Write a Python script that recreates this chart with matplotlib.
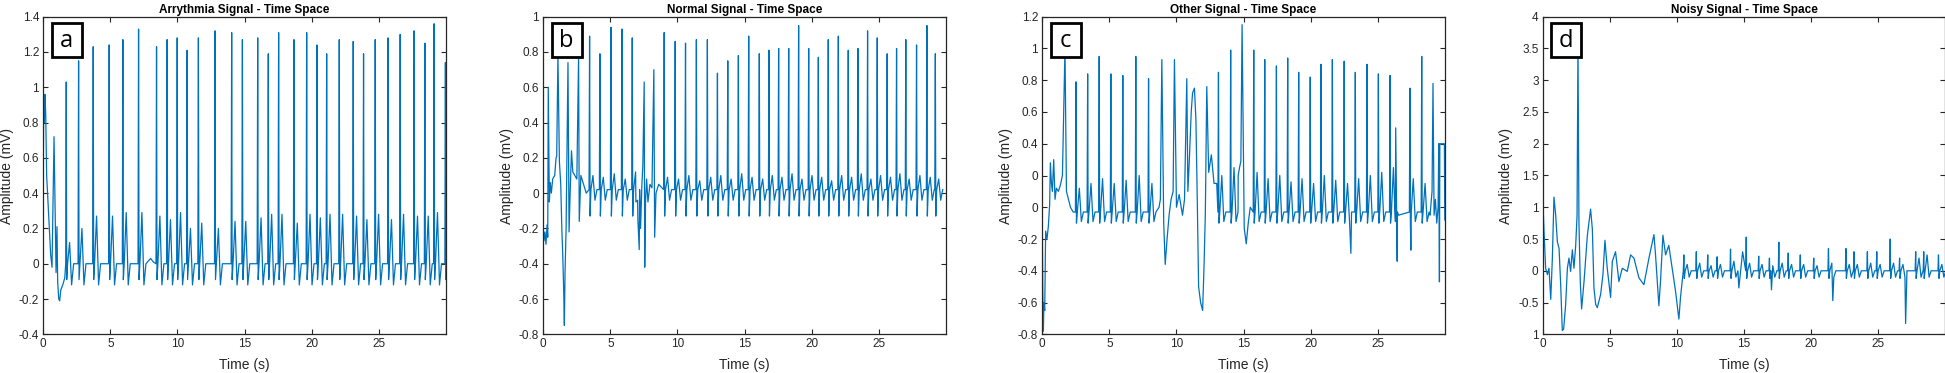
import numpy as np
import matplotlib
matplotlib.use('Agg')
import matplotlib.pyplot as plt
from matplotlib.patches import Rectangle

# ---- data (time in s, amplitude in mV) ----
titles = ['Arrythmia Signal - Time Space', 'Normal Signal - Time Space',
          'Other Signal - Time Space', 'Noisy Signal - Time Space']
letters = ['a', 'b', 'c', 'd']

# panel a : R peaks
beat_t_a = [0.80, 1.71, 2.63, 3.72, 4.91, 5.93, 7.10, 8.44, 9.23, 9.98, 10.72, 11.56, 12.80, 14.04,
            14.84, 15.98, 16.77, 17.54, 18.68, 19.63, 20.40, 21.12, 22.06, 23.10, 23.87, 24.74,
            25.70, 26.60, 27.64, 28.44, 29.13, 29.97]
beat_r_a = [0.72, 1.03, 1.15, 1.23, 1.24, 1.27, 1.33, 1.23, 1.27, 1.28, 1.21, 1.28, 1.32, 1.31,
            1.27, 1.28, 1.19, 1.31, 1.27, 1.31, 1.24, 1.19, 1.27, 1.26, 1.19, 1.27,
            1.28, 1.30, 1.32, 1.25, 1.36, 1.14]
beat_tw_a = [0.21, 0.12, 0.20, 0.27, 0.27, 0.29, 0.29, 0.27, 0.25, 0.29, 0.20, 0.23, 0.20, 0.24,
             0.24, 0.26, 0.28, 0.28, 0.23, 0.28, 0.26, 0.28, 0.28, 0.27, 0.25, 0.28,
             0.25, 0.28, 0.27, 0.27, 0.29, 0.10]
levels_a = (0.0, -0.09, -0.12)  # foot, S trough, low between beats
bare_a = [0]
extra_t_a = [0.0, 0.03, 0.08, 0.12, 0.18, 0.25, 0.35, 0.45, 0.55, 0.65, 0.95, 1.02, 1.07, 1.15,
             1.22, 1.30, 1.45, 1.60, 8.0, 8.2]
extra_v_a = [0.55, 0.93, 0.80, 0.96, 0.85, 0.50, 0.35, 0.20, 0.05, -0.02, -0.05, 0.21, -0.10, -0.20,
             -0.21, -0.15, -0.12, -0.08, 0.03, 0.01]

# panel b
beat_t_b = [0.37, 1.09, 1.84, 2.63, 3.45, 4.22, 5.04, 5.86, 6.63, 7.52, 8.24, 9.01, 9.83, 10.60,
            11.41, 12.23, 12.98, 13.75, 14.54, 15.31, 16.10, 16.82, 17.54, 18.29, 19.03, 19.78,
            20.50, 21.24, 21.99, 22.73, 23.45, 24.17, 24.89, 25.63, 26.33, 27.02, 27.82, 28.59, 29.22]
beat_r_b = [0.60, 0.78, 0.74, 0.78, 0.89, 0.79, 0.94, 0.93, 0.88, 0.63, 0.70, 0.91, 0.86, 0.85,
            0.87, 0.87, 0.68, 0.75, 0.78, 0.89, 0.79, 0.81, 0.82, 0.82, 0.95, 0.82,
            0.77, 0.87, 0.89, 0.81, 0.82, 0.92, 0.88, 0.79, 0.82, 0.87, 0.84, 0.95, 0.79]
beat_tw_b = [0.05, 0.05, 0.05, 0.05, 0.10, 0.09, 0.11, 0.08, 0.12, 0.05, 0.06, 0.09, 0.08, 0.10,
             0.07, 0.09, 0.10, 0.08, 0.11, 0.09, 0.08, 0.10, 0.09, 0.11, 0.08, 0.10,
             0.09, 0.07, 0.10, 0.09, 0.11, 0.08, 0.10, 0.09, 0.11, 0.08, 0.10, 0.09, 0.08]
levels_b = (0.02, -0.13, -0.04)
bare_b = [0, 1, 2, 3, 9, 10]
extra_t_b = [0.0, 0.05, 0.12, 0.20, 0.28, 0.33, 0.45, 0.52, 0.60, 0.70, 0.85, 0.95, 1.00, 1.20, 1.30,
             1.38, 1.45, 1.52, 1.57, 1.62, 1.70, 1.92, 2.00, 2.10, 2.20, 2.35, 2.50, 2.68, 2.80,
             3.00, 3.20, 6.90, 7.05, 7.15, 7.25, 7.35, 7.42, 7.56, 7.62, 7.70, 7.80, 7.95, 8.10,
             8.30, 8.40, 8.60]
extra_v_b = [-0.20, -0.27, -0.22, -0.29, -0.18, -0.25, -0.05, 0.06, 0.00, 0.08, 0.10, 0.20, 0.21, 0.18, 0.05,
             -0.20, -0.35, -0.55, -0.75, -0.45, -0.20, -0.22, 0.00, 0.24, 0.12, 0.10, 0.08, -0.16, 0.10,
             0.05, 0.00, -0.05, -0.15, -0.32, -0.20, 0.05, 0.16, -0.42, -0.05, 0.08, -0.05, 0.05, 0.03,
             -0.25, 0.00, 0.05]

# panel c
beat_t_c = [1.69, 2.51, 3.38, 4.24, 5.11, 6.00, 6.97, 7.92, 8.91, 9.85, 10.77, 11.34, 12.26, 13.13,
            14.04, 14.89, 15.76, 16.58, 17.45, 18.29, 19.11, 19.97, 20.77, 21.62, 22.50, 23.33,
            24.20, 25.05, 25.92, 26.34, 27.40, 28.28, 29.12]
beat_r_c = [1.00, 0.79, 0.84, 0.95, 0.84, 0.83, 0.95, 0.81, 0.93, 0.93, 0.81, 0.75, 0.76, 0.85,
            0.99, 1.15, 0.99, 0.93, 0.89, 0.94, 0.85, 0.82, 0.90, 0.93, 0.92, 0.85,
            0.90, 0.84, 0.83, 0.50, 0.75, 0.95, 0.78]
beat_tw_c = [0.10, 0.12, 0.15, 0.18, 0.15, 0.17, 0.20, 0.15, 0.10, 0.10, 0.10, 0.10, 0.10, 0.20,
             0.25, 0.10, 0.22, 0.18, 0.20, 0.16, 0.18, 0.15, 0.20, 0.17, 0.15, 0.18,
             0.20, 0.22, 0.25, 0.10, 0.18, 0.15, 0.10]
levels_c = (-0.03, -0.10, -0.09)
bare_c = [0, 8, 9, 10, 11, 12, 15, 29, 32]
extra_t_c = [0.0, 0.03, 0.08, 0.12, 0.18, 0.25, 0.35, 0.45, 0.55, 0.60, 0.68, 0.75, 0.85, 0.95,
             1.05, 1.20, 1.35, 1.50, 1.80, 1.95, 2.10, 2.30,
             8.70, 8.80, 9.05, 9.16, 9.30, 9.45, 9.60, 9.75, 10.00, 10.20, 10.45, 10.60,
             10.85, 10.95, 11.10, 11.20, 11.45, 11.55, 11.65, 11.80, 11.95, 12.05, 12.15,
             12.40, 12.60, 12.80, 13.00,
             14.60, 14.70, 14.80, 15.05, 15.20, 15.35, 15.50,
             23.00, 26.28, 26.45, 26.55, 27.47,
             28.90, 29.05, 29.20, 29.30, 29.40, 29.50, 29.55, 29.60, 29.63, 29.97, 30.00]
extra_v_c = [-0.10, -0.50, -0.78, -0.60, -0.65, -0.15, -0.20, -0.12, 0.02, 0.28, 0.15, 0.10, 0.30, 0.05,
             0.12, 0.10, 0.14, 0.20, 0.10, 0.05, 0.00, -0.03,
             0.00, 0.05, -0.10, -0.36, -0.20, -0.05, 0.05, 0.10, 0.00, 0.08, -0.05, 0.05,
             0.10, 0.28, 0.60, 0.72, 0.55, 0.05, -0.50, -0.60, -0.65, -0.38, -0.05,
             0.22, 0.33, 0.15, 0.15,
             0.20, 0.25, 0.29, -0.13, -0.23, -0.10, 0.00,
             -0.29, -0.02, -0.34, -0.05, -0.27,
             -0.05, 0.10, -0.05, 0.05, -0.10, 0.00, 0.40, -0.47, 0.40, 0.40, -0.08]

# panel d
beat_t_d = [10.52, 11.45, 12.30, 13.00, 14.00, 14.90, 15.17, 16.10, 16.90, 17.60, 18.30, 19.20,
            20.20, 21.30, 22.60, 23.20, 24.20, 24.90, 25.90, 26.60, 27.80, 28.40, 29.50]
beat_r_d = [0.25, 0.30, 0.25, 0.22, 0.34, 0.30, 0.53, 0.23, 0.20, 0.45, 0.28, 0.25,
            0.20, 0.35, 0.35, 0.30, 0.30, 0.30, 0.50, 0.20, 0.30, 0.30, 0.25]
beat_tw_d = [0.10, 0.12, 0.08, 0.10, 0.15, 0.10, 0.12, 0.10, 0.08, 0.12, 0.10, 0.10,
             0.08, 0.12, 0.10, 0.10, 0.12, 0.10, 0.12, 0.10, 0.20, 0.25, 0.10]
levels_d = (0.0, -0.12, -0.10)
bare_d = [5]
extra_t_d = [0.00, 0.10, 0.22, 0.35, 0.47, 0.60, 0.72, 0.84, 0.97, 1.09, 1.22, 1.34, 1.46, 1.56,
             1.71, 1.84, 1.96, 2.08, 2.21, 2.33, 2.46, 2.56, 2.63, 2.70, 2.80, 2.90, 3.08, 3.33,
             3.57, 3.70, 3.82, 3.95, 4.07, 4.32, 4.49, 4.64, 4.81, 5.06, 5.19, 5.43, 5.68, 5.93,
             6.30, 6.55, 6.80, 7.17, 7.54, 7.92, 8.29, 8.41, 8.66, 8.78, 8.96, 9.16, 9.40, 9.65,
             9.90, 10.15, 10.27, 14.62, 17.05, 21.62, 27.05]
extra_v_d = [1.18, 0.61, 0.04, -0.06, 0.04, -0.45, 0.20, 1.16, 0.87, 0.46, 0.35, -0.22, -0.94, -0.92,
             -0.53, 0.04, 0.20, -0.01, 0.33, 0.04, 0.40, 0.87, 3.60, 0.77, -0.17, -0.60, -0.17, 0.56,
             0.97, 0.66, -0.27, -0.53, -0.58, -0.37, -0.06, 0.48, 0.04, -0.42, 0.15, 0.30, -0.17, 0.04,
             -0.01, 0.25, 0.20, -0.11, -0.22, 0.20, 0.57, 0.25, -0.55, -0.17, 0.56, 0.25, 0.40, 0.04,
             -0.32, -0.76, -0.42, -0.27, -0.30, -0.47, -0.83]

ylims = [(-0.4, 1.4), (-0.8, 1.0), (-0.8, 1.2), (-1.0, 4.0)]
yticks = [np.arange(-0.4, 1.41, 0.2), np.arange(-0.8, 1.01, 0.2),
          np.arange(-0.8, 1.21, 0.2), np.arange(-1.0, 4.01, 0.5)]
yticklabels = [['-0.4', '-0.2', '0', '0.2', '0.4', '0.6', '0.8', '1', '1.2', '1.4'],
               ['-0.8', '-0.6', '-0.4', '-0.2', '0', '0.2', '0.4', '0.6', '0.8', '1'],
               ['-0.8', '-0.6', '-0.4', '-0.2', '0', '0', '0.4', '0.6', '0.8', '1', '1.2'],
               ['1', '-0.5', '0', '0.5', '1', '1.5', '2', '2.5', '3', '3.5', '4']]


def build_trace(bt, br, btw, levels, bare, et, ev):
    """Join the beat vertices and the extra vertices into one time-sorted line"""
    foot, s, low = levels
    pts = list(zip(et, ev))
    for i, (t, r, tw) in enumerate(zip(bt, br, btw)):
        if i in bare:
            pts.append((t, r))
            continue
        pts += [(t - 0.04, foot), (t, r), (t + 0.035, s), (t + 0.1, foot),
                (t + 0.25, tw), (t + 0.4, low), (t + 0.55, foot)]
    pts.sort(key=lambda p: p[0])
    pts = np.array(pts)
    return pts[:, 0], pts[:, 1]


traces = [build_trace(beat_t_a, beat_r_a, beat_tw_a, levels_a, bare_a, extra_t_a, extra_v_a),
          build_trace(beat_t_b, beat_r_b, beat_tw_b, levels_b, bare_b, extra_t_b, extra_v_b),
          build_trace(beat_t_c, beat_r_c, beat_tw_c, levels_c, bare_c, extra_t_c, extra_v_c),
          build_trace(beat_t_d, beat_r_d, beat_tw_d, levels_d, bare_d, extra_t_d, extra_v_d)]

plt.rcParams['font.family'] = ['Liberation Sans', 'DejaVu Sans']
W, H = 1945, 373
fig = plt.figure(figsize=(W / 100, H / 100), dpi=100)
lefts = [43.3, 543.3, 1042.3, 1542.7]
width = 402.5
top, bottom = 16.7, 334.3

for k in range(4):
    ax = fig.add_axes([lefts[k] / W, (H - bottom) / H, width / W, (bottom - top) / H])
    x, y = traces[k]
    ax.plot(x, y, color='#0072BD', lw=0.9)
    ax.set_xlim(0, 30)
    ax.set_ylim(*ylims[k])
    ax.set_xticks([0, 5, 10, 15, 20, 25])
    ax.set_yticks(yticks[k])
    ax.set_yticklabels(yticklabels[k])
    ax.tick_params(direction='in', length=3.5, width=0.8, labelsize=8.5, colors='#262626',
                   top=True, right=True, pad=3)
    for sp in ax.spines.values():
        sp.set_linewidth(0.9)
        sp.set_color('#262626')
    ax.set_title(titles[k], fontsize=8.5, fontweight='bold', pad=3)
    ax.set_xlabel('Time (s)', fontsize=10, color='#262626')
    ax.set_ylabel('Amplitude (mV)', fontsize=10, color='#262626')
    ax.xaxis.set_label_coords(0.5, -0.075)
    ax.yaxis.set_label_coords(-0.074, 0.5)
    ax.add_patch(Rectangle((0.021, 0.873), 0.074, 0.107, transform=ax.transAxes,
                           facecolor='white', edgecolor='black', lw=2, zorder=5))
    ax.text(0.058, 0.925, letters[k], transform=ax.transAxes, ha='center', va='center',
            fontsize=17, family=['Open Sans', 'DejaVu Sans'], zorder=6)

fig.savefig('out.png', dpi=100)
